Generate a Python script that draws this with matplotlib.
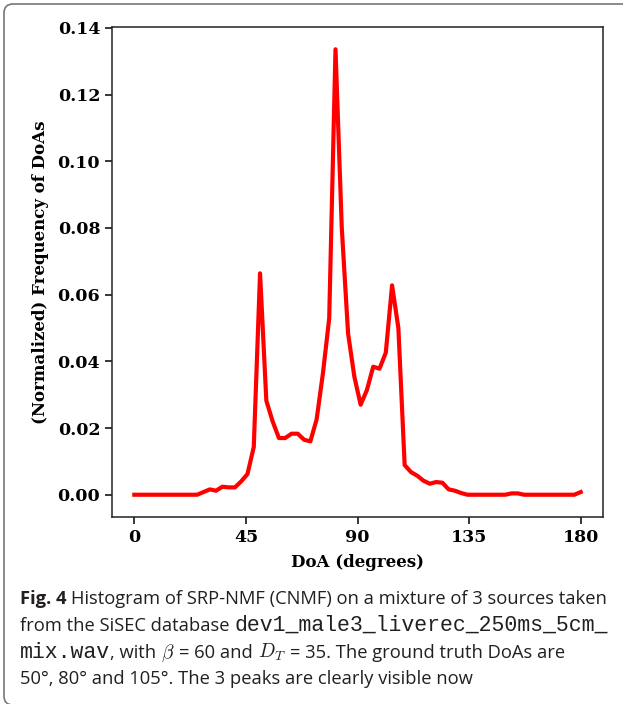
import numpy as np
import matplotlib
matplotlib.use("Agg")
import matplotlib.pyplot as plt
from matplotlib.patches import PathPatch
from matplotlib.path import Path

# DoA grid (72 bins over 0..180 degrees) and normalized histogram values
doa = np.linspace(0, 180, 72)
freq = [
    0, 0, 0, 0, 0, 0, 0, 0, 0, 0,
    0, 0.0008, 0.0016, 0.0012, 0.0024, 0.0022, 0.0022, 0.0040, 0.0062, 0.0143,
    0.0664, 0.0282, 0.0220, 0.0170, 0.0170, 0.0183, 0.0183, 0.0165, 0.0160, 0.0226,
    0.0364, 0.0529, 0.1336, 0.0800, 0.0484, 0.0354, 0.0270, 0.0314, 0.0384, 0.0378,
    0.0426, 0.0628, 0.0500, 0.0089, 0.0068, 0.0057, 0.0042, 0.0033, 0.0038, 0.0036,
    0.0016, 0.0012, 0.0005, 0, 0, 0, 0, 0, 0, 0,
    0.0004, 0.0004, 0, 0, 0, 0, 0, 0, 0, 0,
    0, 0.0008,
]
xticks = [0, 45, 90, 135, 180]
yticks = [0.00, 0.02, 0.04, 0.06, 0.08, 0.10, 0.12, 0.14]

caption_lines = [
    [("Fig. 4", "bold"), (" ", None), ("Histogram of SRP-NMF (CNMF) on a mixture of 3 sources taken", "sans")],
    [("from the SiSEC database", "sans"), (" ", None), ("dev1_male3_liverec_250ms_5cm_", "mono")],
    [("mix.wav", "mono"), (", with", "sans"), (" ", None), (r"$\beta$", "math"), (" ", None),
     ("= 60 and", "sans"), (" ", None), (r"$D_T$", "math"), (" ", None),
     ("= 35. The ground truth DoAs are", "sans")],
    [("50°, 80° and 105°. The 3 peaks are clearly visible now", "sans")],
]

W, H = 623, 704
plt.rcParams["font.family"] = "DejaVu Serif"
plt.rcParams["font.weight"] = "bold"
plt.rcParams["mathtext.fontset"] = "cm"

fig = plt.figure(figsize=(W / 100, H / 100), dpi=100)
ax = fig.add_axes([112 / W, 187 / H, 491 / W, 490 / H])

ax.plot(doa, freq, color="red", lw=3)
ax.set_xticks(xticks)
ax.set_yticks(yticks)
ax.set_yticklabels([f"{v:.2f}" for v in yticks])
ax.tick_params(labelsize=12.5, length=5, width=1.1)
for s in ax.spines.values():
    s.set_linewidth(1.1)
    s.set_color("#222222")
ax.set_xlabel("DoA (degrees)", fontsize=12, fontweight="bold", labelpad=6)
ax.set_ylabel("(Normalized) Frequency of DoAs", fontsize=12, fontweight="bold", labelpad=6)

# rounded frame (open on the right, bottom edge just off the canvas)
x0, top, bot, r = 4, H - 4, -1, 9
verts = [(W + 20, top), (x0 + r, top), (x0, top), (x0, top - r),
         (x0, bot + r), (x0, bot), (x0 + r, bot), (W + 20, bot)]
codes = [Path.MOVETO, Path.LINETO, Path.CURVE3, Path.CURVE3,
         Path.LINETO, Path.CURVE3, Path.CURVE3, Path.LINETO]
frame = PathPatch(Path(verts, codes), transform=None, fill=False,
                  edgecolor="#777777", lw=1.2)
fig.add_artist(frame)

# caption, built from runs of different fonts
styles = {
    "sans": dict(family="Open Sans", fontsize=13.2, fontweight="normal", color="#231f20"),
    "bold": dict(family="Open Sans", fontsize=13.2, fontweight="bold", color="#231f20"),
    "mono": dict(family="Liberation Mono", fontsize=15.5, fontweight="normal", color="#231f20"),
    "math": dict(fontsize=14, fontweight="normal", color="#231f20"),
}
renderer = fig.canvas.get_renderer()


def text_width(s, st):
    t = fig.text(0, 0, s, **styles[st])
    w = t.get_window_extent(renderer).width
    t.remove()
    return w


space = text_width("a a", "sans") - text_width("aa", "sans")
baselines = [604, 631, 658, 684]
for line, yb in zip(caption_lines, baselines):
    x = 20
    for s, st in line:
        if st is None:
            x += space
            continue
        t = fig.text(x / W, 1 - yb / H, s, va="baseline", ha="left", **styles[st])
        x += t.get_window_extent(renderer).width

fig.savefig("out.png", dpi=100)
